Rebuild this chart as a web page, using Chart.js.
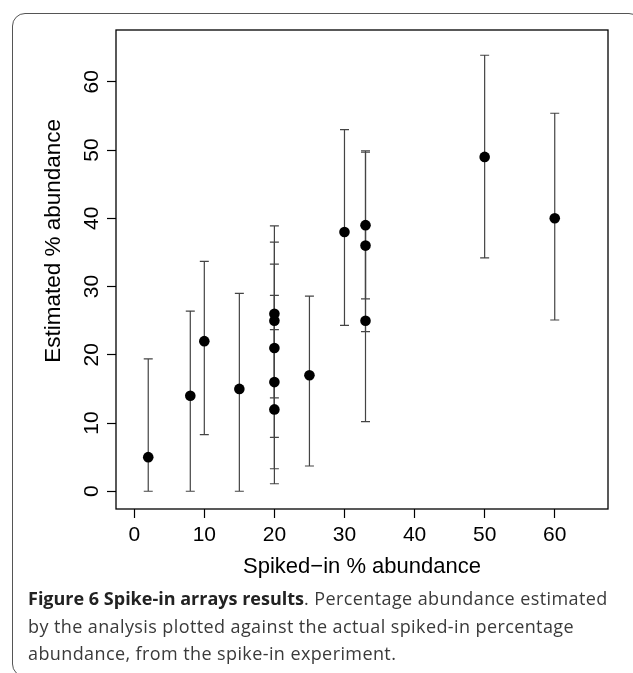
<!DOCTYPE html>
<html>
<head>
<meta charset="utf-8">
<title>Spike-in arrays results</title>
<script src="https://cdn.jsdelivr.net/npm/chart.js@4.4.1/dist/chart.umd.min.js"></script>
<style>
    html, body { margin: 0; padding: 0; background: #fff; }
    #page { position: relative; width: 633px; height: 673px; overflow: hidden; }
    #frame {
        position: absolute; left: 12px; top: 13px;
        width: 628px; height: 662px;
        border: 1.5px solid #555; border-radius: 13px;
    }
    #chartBox { position: absolute; left: 0; top: 0; width: 633px; height: 590px; }
    #caption {
        position: absolute; left: 28px; top: 585px; width: 600px;
        font-family: 'Open Sans', sans-serif; font-size: 18px; line-height: 27.5px;
        letter-spacing: 0.4px; color: #3a3a3a; white-space: nowrap;
    }
    #caption b { color: #222; letter-spacing: 0; }
</style>
</head>
<body>
<div id="page">
    <div id="frame"></div>
    <div id="chartBox"><canvas id="spikeChart"></canvas></div>
    <div id="caption">
        <b>Figure 6 Spike-in arrays results</b>. Percentage abundance estimated<br>
        by the analysis plotted against the actual spiked-in percentage<br>
        abundance, from the spike-in experiment.
    </div>
</div>
<script>
// ---- data ----
const spikedIn  = [2, 8, 10, 15, 20, 20, 20, 20, 20, 25, 30, 33, 33, 33, 50, 60];
const estimated = [5, 14, 22, 15, 26, 25, 21, 16, 12, 17, 38, 39, 36, 25, 49, 40];
const upperCI   = [19.4, 26.4, 33.7, 29.0, 38.9, 36.5, 33.3, 28.7, 23.7, 28.6, 53.0, 49.9, 49.7, 38.8, 63.9, 55.4];
const lowerCI   = [0, 0, 8.3, 0, 12.1, 13.7, 7.9, 3.3, 1.1, 3.7, 24.3, 28.2, 23.4, 10.2, 34.2, 25.1];

const xTicks = [0, 10, 20, 30, 40, 50, 60];
const yTicks = [0, 10, 20, 30, 40, 50, 60];

const yTitle = 'Estimated % abundance';
const axisFont = "'Liberation Sans', Arial, sans-serif";

/* error bars, drawn under the points */
const errorBars = {
    id: 'errorBars',
    beforeDatasetsDraw(chart) {
        const { ctx, scales: { x, y } } = chart;
        ctx.save();
        ctx.strokeStyle = '#444';
        ctx.lineWidth = 1.2;
        for (let i = 0; i < spikedIn.length; i++) {
            const px = x.getPixelForValue(spikedIn[i]);
            const top = y.getPixelForValue(upperCI[i]);
            const bot = y.getPixelForValue(lowerCI[i]);
            ctx.beginPath();
            ctx.moveTo(px, top); ctx.lineTo(px, bot);
            ctx.moveTo(px - 4.5, top); ctx.lineTo(px + 4.5, top);
            ctx.moveTo(px - 4.5, bot); ctx.lineTo(px + 4.5, bot);
            ctx.stroke();
        }
        ctx.restore();
    }
};

/* box around the plot region, R-style vertical y tick labels and y title */
const plotFrame = {
    id: 'plotFrame',
    afterDraw(chart) {
        const { ctx, chartArea: a, scales: { y } } = chart;
        ctx.save();
        ctx.strokeStyle = '#000';
        ctx.lineWidth = 1.3;
        ctx.strokeRect(a.left, a.top, a.right - a.left, a.bottom - a.top);

        ctx.fillStyle = '#000';
        ctx.textAlign = 'center';
        ctx.textBaseline = 'middle';
        ctx.font = '21px ' + axisFont;
        y.ticks.forEach(t => {
            ctx.save();
            ctx.translate(92, y.getPixelForValue(t.value));
            ctx.rotate(-Math.PI / 2);
            ctx.fillText(String(t.value), 0, 0);
            ctx.restore();
        });

        // the original title sits a little above the middle of the plot
        ctx.font = '22.5px ' + axisFont;
        ctx.translate(54, y.getPixelForValue(36.7));
        ctx.rotate(-Math.PI / 2);
        ctx.fillText(yTitle, 0, 0);
        ctx.restore();
    }
};

function initializeChart() {
    const ctx = document.getElementById('spikeChart');

    new Chart(ctx, {
        type: 'scatter',
        data: {
            datasets: [{
                label: 'Estimated',
                data: spikedIn.map((v, i) => ({ x: v, y: estimated[i] })),
                pointRadius: 5.3,
                pointBackgroundColor: '#000',
                pointBorderColor: '#000',
                pointBorderWidth: 0
            }]
        },
        options: {
            responsive: true,
            maintainAspectRatio: false,
            animation: false,
            layout: { padding: { top: 30, right: 25, left: 0, bottom: 0 } },
            plugins: {
                legend: { display: false },
                tooltip: { enabled: false }
            },
            scales: {
                x: {
                    type: 'linear',
                    min: -2.6,
                    max: 67.6,
                    afterBuildTicks: s => { s.ticks = xTicks.map(v => ({ value: v })); },
                    afterFit: s => { s.height = 81; },
                    border: { display: false },
                    grid: { drawOnChartArea: false, drawTicks: true, tickLength: 9, tickColor: '#000', tickWidth: 1.2 },
                    ticks: { color: '#000', padding: 5, maxRotation: 0, font: { family: axisFont, size: 21 } },
                    title: {
                        display: true,
                        text: 'Spiked\u2212in % abundance',
                        color: '#000',
                        font: { family: axisFont, size: 22 },
                        padding: { top: 0, bottom: 10 }
                    }
                },
                y: {
                    type: 'linear',
                    min: -2.6,
                    max: 67.6,
                    afterBuildTicks: s => { s.ticks = yTicks.map(v => ({ value: v })); },
                    afterFit: s => { s.width = 116; },
                    border: { display: false },
                    grid: { drawOnChartArea: false, drawTicks: true, tickLength: 9, tickColor: '#000', tickWidth: 1.2 },
                    // labels and title are drawn rotated by the plotFrame plugin
                    ticks: { color: 'rgba(0,0,0,0)', font: { family: axisFont, size: 21 } },
                    title: { display: false }
                }
            }
        },
        plugins: [errorBars, plotFrame]
    });
}

initializeChart();
</script>
</body>
</html>
